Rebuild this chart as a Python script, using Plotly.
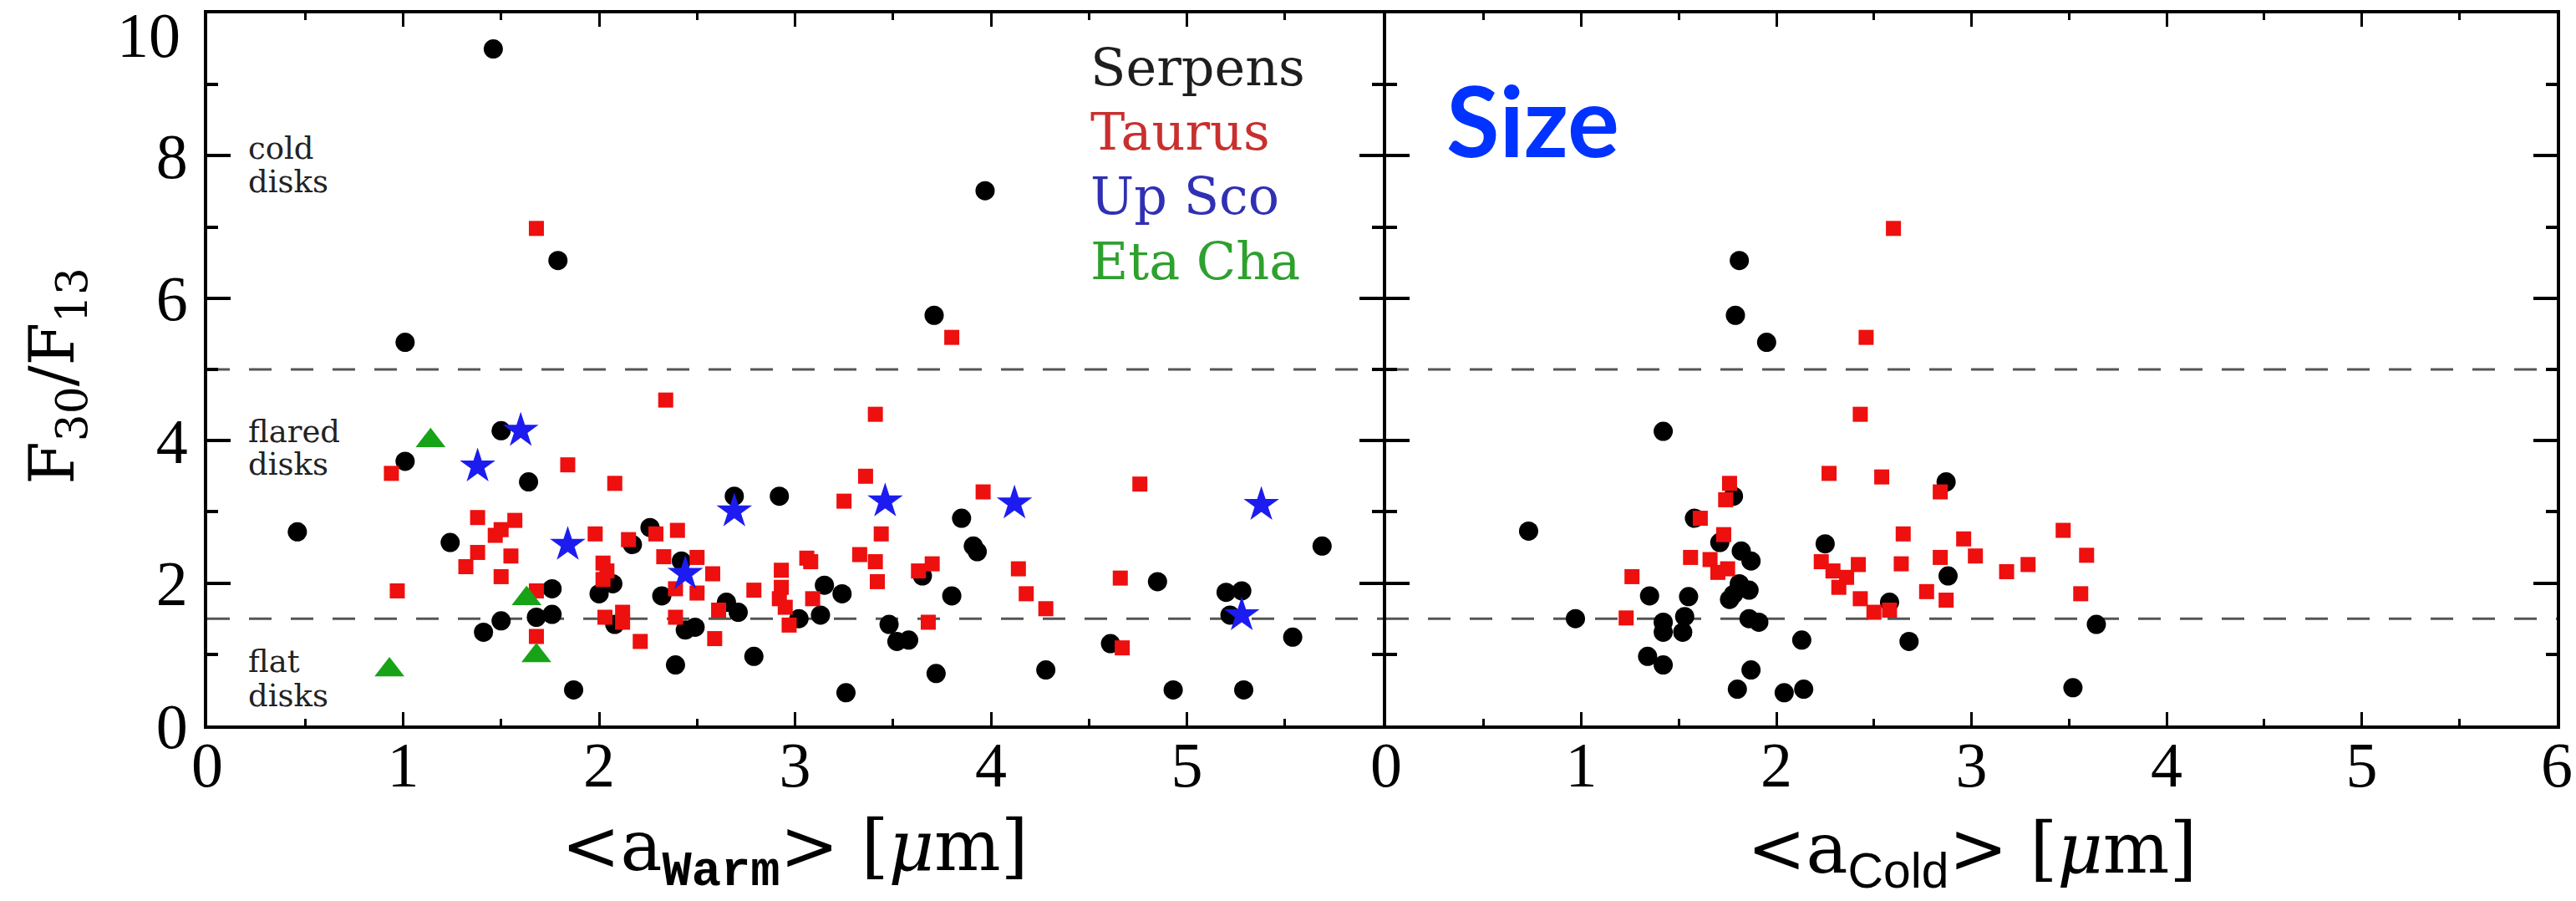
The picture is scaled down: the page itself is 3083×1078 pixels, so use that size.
import plotly.graph_objects as go

# ---------------- data ----------------
# Left panel: <a_Warm> vs F30/F13
serp_warm_x = [0.46, 1.01, 1.01, 1.24, 1.46, 1.50, 1.64, 1.79, 1.41, 1.50, 1.68, 1.76, 1.76, 1.87,
               2.00, 2.07, 2.08, 2.17, 2.26, 2.32, 2.42, 2.39, 2.44, 2.49, 2.65, 2.71, 2.69, 2.79,
               2.92, 3.02, 3.13, 3.15, 3.24, 3.26, 3.48, 3.52, 3.58, 3.65, 3.71, 3.72, 3.80, 3.85,
               3.91, 3.93, 3.97, 4.28, 4.61, 4.85, 4.93, 5.20, 5.28, 5.22, 5.29, 5.54, 5.69]
serp_warm_y = [2.72, 5.38, 3.71, 2.57, 9.50, 4.14, 3.42, 6.53, 1.31, 1.47, 1.52, 1.56, 1.92, 0.50,
               1.85, 1.99, 1.42, 2.54, 2.78, 1.82, 2.31, 0.85, 1.34, 1.38, 1.73, 1.59, 3.22, 0.97,
               3.22, 1.50, 1.55, 1.97, 1.85, 0.46, 1.42, 1.18, 1.20, 2.10, 5.76, 0.73, 1.82, 2.91,
               2.52, 2.44, 7.51, 0.78, 1.15, 2.02, 0.50, 1.87, 1.89, 1.55, 0.50, 1.24, 2.52]

taur_warm_x = [0.94, 0.97, 1.32, 1.38, 1.38, 1.47, 1.50, 1.57, 1.55, 1.50, 1.68, 1.84, 1.68, 1.68,
               1.98, 2.08, 2.02, 2.04, 2.02, 2.03, 2.12, 2.12, 2.15, 2.21, 2.29, 2.34, 2.40, 2.33,
               2.39, 2.39, 2.50, 2.50, 2.58, 2.59, 2.61, 2.79, 2.93, 2.93, 2.92, 2.95, 2.97, 3.06,
               3.08, 3.09, 3.25, 3.36, 3.41, 3.44, 3.33, 3.41, 3.42, 3.63, 3.70, 3.68, 3.80, 3.96,
               4.14, 4.18, 4.28, 4.66, 4.67, 4.76]
taur_warm_y = [3.54, 1.89, 2.23, 2.92, 2.43, 2.67, 2.75, 2.88, 2.38, 2.09, 6.98, 3.66, 1.89, 1.25,
               2.69, 3.40, 2.28, 2.17, 2.05, 1.52, 1.59, 1.45, 2.61, 1.18, 2.69, 4.57, 2.74, 2.37,
               1.92, 1.52, 2.36, 1.86, 2.13, 1.22, 1.62, 1.90, 2.18, 1.94, 1.78, 1.66, 1.41, 2.35,
               2.30, 1.78, 3.15, 3.50, 4.37, 2.69, 2.40, 2.30, 2.02, 2.17, 2.27, 1.45, 5.45, 3.28,
               2.20, 1.85, 1.64, 2.07, 1.09, 3.39]

upsco_warm_x = [1.38, 1.60, 1.84, 2.44, 2.69, 3.46, 4.12, 5.38, 5.28]
upsco_warm_y = [3.64, 4.14, 2.54, 2.13, 3.01, 3.15, 3.12, 3.10, 1.55]

etacha_warm_x = [0.93, 1.14, 1.63, 1.68]
etacha_warm_y = [0.78, 4.00, 1.78, 0.98]

# Right panel: <a_Cold> vs F30/F13
serp_cold_x = [1.81, 1.79, 1.95, 1.42, 0.73, 1.78, 1.58, 1.71, 1.82, 1.87, 1.35, 1.55, 1.81, 1.78,
               1.76, 1.86, 0.97, 1.42, 1.42, 1.53, 1.52, 1.86, 1.91, 1.34, 1.42, 1.87, 1.80, 2.04,
               2.14, 2.13, 2.87, 2.25, 2.88, 2.58, 2.68, 3.64, 3.52]
serp_cold_y = [6.53, 5.76, 5.38, 4.13, 2.73, 3.22, 2.91, 2.57, 2.45, 2.31, 1.82, 1.81, 1.99, 1.84,
               1.77, 1.90, 1.50, 1.45, 1.31, 1.53, 1.31, 1.50, 1.45, 0.97, 0.85, 0.78, 0.51, 0.46,
               0.51, 1.20, 3.42, 2.55, 2.10, 1.73, 1.18, 1.42, 0.53]

taur_cold_x = [1.76, 1.74, 1.61, 1.73, 1.56, 1.66, 1.70, 1.75, 1.26, 1.23, 2.60, 2.46, 2.43, 2.27,
               2.54, 2.84, 2.65, 2.96, 3.47, 2.23, 2.29, 2.36, 2.32, 2.42, 2.64, 2.84, 3.02, 3.18,
               3.29, 3.59, 2.43, 2.50, 2.58, 2.77, 2.87, 3.56]
taur_cold_y = [3.40, 3.17, 2.91, 2.68, 2.36, 2.33, 2.15, 2.20, 2.09, 1.51, 6.98, 5.45, 4.37, 3.54,
               3.49, 3.28, 2.69, 2.62, 2.74, 2.30, 2.17, 2.08, 1.94, 2.26, 2.27, 2.36, 2.38, 2.16,
               2.26, 2.39, 1.78, 1.59, 1.62, 1.88, 1.76, 1.85]

x_ticks_left = [0, 1, 2, 3, 4, 5]
x_ticks_right = [0, 1, 2, 3, 4, 5, 6]
x_minor = [0.5, 1.5, 2.5, 3.5, 4.5, 5.5]
y_ticks = [0, 2, 4, 6, 8, 10]
y_tick_text = ["0", "2", "4", "6", "8", ""]   # top label "10" drawn separately (sits just below the frame)
y_top_label = "10"
y_minor = [1, 3, 5, 7, 9]
thresholds = [5.0, 1.5]

legend_names = ["Serpens", "Taurus", "Up Sco", "Eta Cha"]
legend_text_colors = ["#1e1e1e", "#c8302e", "#3030b4", "#2ea02e"]

# ---------------- styles ----------------
C_SERP = "#000000"
C_TAUR = "#ee0f0f"
C_UPSCO = "#1c1cf0"
C_ETA = "#17a317"

W, H = 3083, 1078
ML, MR, MT, MB = 248, 23, 16, 210
PW = W - ML - MR
split = (1655 - ML) / PW
split2 = split + 4.0 / PW

fig = go.Figure()


def add_series(x, y, color, symbol, size, xa, ya):
    fig.add_trace(go.Scatter(
        x=x, y=y, mode="markers", xaxis=xa, yaxis=ya, showlegend=False, cliponaxis=False,
        marker=dict(color=color, symbol=symbol, size=size, line=dict(width=0)),
    ))


add_series(serp_warm_x, serp_warm_y, C_SERP, "circle", 23, "x", "y")
add_series(taur_warm_x, taur_warm_y, C_TAUR, "square", 18, "x", "y")
add_series(upsco_warm_x, upsco_warm_y, C_UPSCO, "star", 32, "x", "y")
add_series(etacha_warm_x, etacha_warm_y, C_ETA, "triangle-up", 31, "x", "y")

add_series(serp_cold_x, serp_cold_y, C_SERP, "circle", 23, "x2", "y2")
add_series(taur_cold_x, taur_cold_y, C_TAUR, "square", 18, "x2", "y2")

# dashed threshold lines
for xr, yr in (("x", "y"), ("x2", "y2")):
    for t in thresholds:
        fig.add_shape(type="line", xref=xr, yref=yr, x0=0, x1=6, y0=t, y1=t,
                      line=dict(color="#555555", width=3, dash="27px,23px"), layer="below")

tick_font = dict(family="Liberation Serif", size=76, color="black")

common_x = dict(range=[0, 6], showgrid=False, zeroline=False, showline=True, linecolor="black",
                linewidth=4, mirror="ticks", ticks="inside", ticklen=16, tickwidth=3,
                tickcolor="black", tickfont=tick_font, ticklabelstandoff=-22,
                ticklabeloverflow="allow", automargin=False,
                minor=dict(tickvals=x_minor, ticks="inside", ticklen=8, tickwidth=3,
                           tickcolor="black", showgrid=False))
common_y = dict(range=[0, 10], showgrid=False, zeroline=False, showline=True, linecolor="black",
                linewidth=4, mirror="ticks", ticks="inside", ticklen=28, tickwidth=4,
                tickcolor="black", tickfont=tick_font, tickvals=y_ticks, ticktext=y_tick_text,
                ticklabeloverflow="allow", automargin=False,
                minor=dict(tickvals=y_minor, ticks="inside", ticklen=13, tickwidth=4,
                           tickcolor="black", showgrid=False))

fig.update_layout(
    width=W, height=H, margin=dict(l=ML, r=MR, t=MT, b=MB, autoexpand=False),
    paper_bgcolor="white", plot_bgcolor="white", showlegend=False,
    xaxis=dict(common_x, domain=[0, split], tickvals=x_ticks_left, anchor="y"),
    yaxis=dict(common_y, domain=[0, 1], anchor="x", ticklabelstandoff=4),
    xaxis2=dict(common_x, domain=[split2, 1], tickvals=x_ticks_right, anchor="y2"),
    yaxis2=dict(common_y, domain=[0, 1], anchor="x2", showticklabels=False),
)

ann = []
# top y tick label
ann.append(dict(xref="paper", yref="y", x=0, y=10, xshift=-30, yshift=-26, text=y_top_label,
                showarrow=False, xanchor="right", yanchor="middle", font=tick_font))

# legend text (top-right of left panel)
for i, (name, col) in enumerate(zip(legend_names, legend_text_colors)):
    ann.append(dict(xref="x", yref="y", x=4.50, y=9.24 - 0.905 * i, text=name, showarrow=False,
                    xanchor="left", yanchor="middle",
                    font=dict(family="DejaVu Serif", size=62, color=col)))

# region labels
regions = [("cold", 8.10), ("disks", 7.63), ("flared", 4.13), ("disks", 3.67),
           ("flat", 0.90), ("disks", 0.42)]
for txt, yy in regions:
    ann.append(dict(xref="x", yref="y", x=0.2, y=yy, text=txt, showarrow=False,
                    xanchor="left", yanchor="middle",
                    font=dict(family="DejaVu Serif", size=37, color="#222222")))

# "Size" label
ann.append(dict(xref="x2", yref="y2", x=0.75, y=8.5, text="<b>Size</b>", showarrow=False,
                xanchor="center", yanchor="middle",
                font=dict(family="Lato", size=116, color="#0033ff")))

# axis titles
title_font = dict(family="DejaVu Serif", size=84, color="black")
ann.append(dict(xref="paper", yref="paper", x=split / 2, y=0, yshift=-152,
                text="&lt;a<sub><span style=\"font-family:Liberation Mono;font-weight:bold\">Warm</span></sub>&gt; [<i>μ</i>m]",
                showarrow=False, xanchor="center", yanchor="middle", font=title_font))
ann.append(dict(xref="paper", yref="paper", x=(split2 + 1) / 2, y=0, yshift=-152,
                text="&lt;a<sub><span style=\"font-family:Liberation Sans\">Cold</span></sub>&gt; [<i>μ</i>m]",
                showarrow=False, xanchor="center", yanchor="middle", font=title_font))
ann.append(dict(xref="paper", yref="paper", x=0, y=0.49, xshift=-180,
                text="F<sub>30</sub>/F<sub>13</sub>", showarrow=False, textangle=-90,
                xanchor="center", yanchor="middle",
                font=dict(family="DejaVu Serif", size=74, color="black")))

fig.update_layout(annotations=ann)
fig.write_html("out.html")
